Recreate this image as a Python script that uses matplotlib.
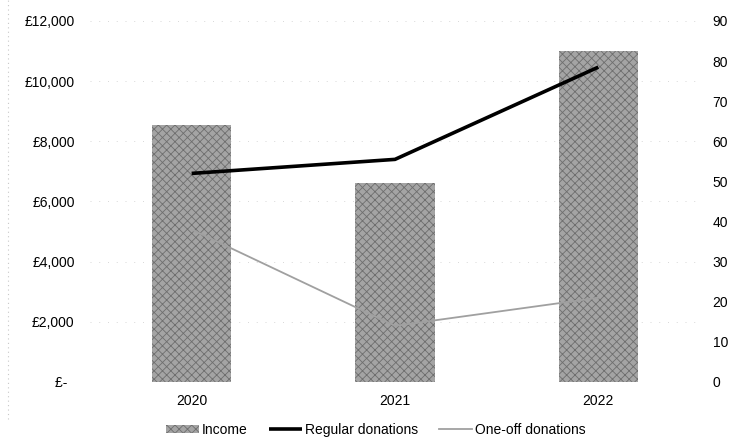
import matplotlib.pyplot as plt
from matplotlib.lines import Line2D

plt.rcParams['font.family'] = ['Liberation Sans', 'DejaVu Sans']
plt.rcParams['font.size'] = 10
plt.rcParams['hatch.linewidth'] = 0.6

# Datos
years = ['2020', '2021', '2022']
income = [8550, 6600, 11000]
regular_donations = [52, 55.5, 78.5]
one_off_donations = [38, 14, 21]

left_ticks = [0, 2000, 4000, 6000, 8000, 10000, 12000]
left_labels = ['£-  ', '£2,000', '£4,000', '£6,000', '£8,000', '£10,000', '£12,000']
right_ticks = [0, 10, 20, 30, 40, 50, 60, 70, 80, 90]

fig = plt.figure(figsize=(7.31, 4.41), dpi=100)
ax = fig.add_axes([0.1231, 0.1338, 0.8345, 0.8186])
ax2 = ax.twinx()

x = range(len(years))
ax.bar(x, income, width=0.39, color='#a4a4a4', edgecolor='#6e6e6e',
       hatch='xxxx', linewidth=0, label='Income', zorder=2)

ax2.plot(x, regular_donations, color='black', linewidth=2.6, label='Regular donations',
         solid_capstyle='butt', zorder=3)
ax2.plot(x, one_off_donations, color='#a0a0a0', linewidth=1.3, label='One-off donations',
         zorder=3)

ax.set_xlim(-0.5, 2.5)
ax.set_ylim(0, 12000)
ax2.set_ylim(0, 90)
ax.set_xticks(list(x))
ax.set_xticklabels(years)
ax.set_yticks(left_ticks)
ax.set_yticklabels(left_labels)
ax2.set_yticks(right_ticks)
ax2.set_yticklabels([str(t) for t in right_ticks])

ax.grid(axis='y', color='#d8d8d8', linestyle=(0, (1, 8)), linewidth=0.7, zorder=0)
ax.set_axisbelow(True)
ax2.set_zorder(ax.get_zorder() + 1)
ax2.patch.set_visible(False)

for a in (ax, ax2):
    for s in a.spines.values():
        s.set_visible(False)
ax.tick_params(axis='y', length=0, pad=11)
ax.tick_params(axis='x', length=0, pad=9)
ax2.tick_params(axis='y', length=0, pad=9)

# borde punteado del área del gráfico
fig.add_artist(Line2D([0.011, 0.011], [0.05, 1.0], color='#c8c8c8',
                      linestyle=(0, (1, 3)), linewidth=0.8))

h1, l1 = ax.get_legend_handles_labels()
h2, l2 = ax2.get_legend_handles_labels()
fig.legend(h1 + h2, l1 + l2, loc='center', bbox_to_anchor=(0.514, 0.025), ncol=3,
           frameon=False, handlelength=2.4, handletextpad=0.2, columnspacing=1.5,
           handleheight=0.6)

fig.savefig('out.png', dpi=100)
